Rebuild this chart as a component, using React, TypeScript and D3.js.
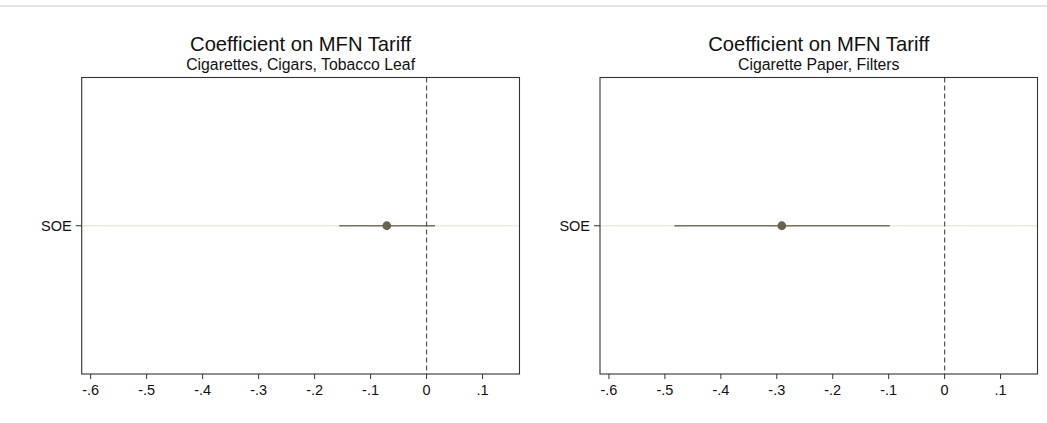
import React from "react";
import * as d3 from "d3";

// Coefficient estimates with confidence intervals, one panel per product group
const panelTitles = ["Coefficient on MFN Tariff", "Coefficient on MFN Tariff"];
const panelSubtitles = ["Cigarettes, Cigars, Tobacco Leaf", "Cigarette Paper, Filters"];
const rowLabels = ["SOE"];
const estimates = [-0.071, -0.291];
const ciLow = [-0.156, -0.483];
const ciHigh = [0.015, -0.098];
const xTicks = [-0.6, -0.5, -0.4, -0.3, -0.2, -0.1, 0, 0.1];
const xDomain: [number, number] = [-0.616, 0.166];

const W = 1047;
const H = 423;
const FONT = "'Liberation Sans', Arial, Helvetica, sans-serif";

const fmt = (v: number) => {
  if (v === 0) return "0";
  const s = d3.format(".1f")(Math.abs(v)).replace(/^0/, "");
  return (v < 0 ? "-" : "") + s;
};

function Panel({ i, left, right }: { i: number; left: number; right: number }) {
  const top = 77.5;
  const bottom = 374;
  const x = d3.scaleLinear().domain(xDomain).range([left, right]);
  const y = d3.scalePoint<string>().domain(rowLabels).range([bottom, top]).padding(1);
  const cx = (left + right) / 2;
  const yRow = y(rowLabels[0]) as number;
  return (
    <g>
      <text x={cx} y={50.5} textAnchor="middle" fontFamily={FONT} fontSize={20.2} fill="#111">
        {panelTitles[i]}
      </text>
      <text x={cx} y={70} textAnchor="middle" fontFamily={FONT} fontSize={15.8} fill="#111">
        {panelSubtitles[i]}
      </text>
      {rowLabels.map((r) => (
        <g key={r}>
          <line x1={left} x2={right} y1={y(r)} y2={y(r)} stroke="#ecebdc" strokeWidth={1.6} />
          <line x1={left - 6} x2={left} y1={y(r)} y2={y(r)} stroke="#333" strokeWidth={1} />
          <text x={left - 10} y={(y(r) as number) + 5.2} textAnchor="end" fontFamily={FONT} fontSize={14.5} fill="#111">
            {r}
          </text>
        </g>
      ))}
      <line x1={x(ciLow[i])} x2={x(ciHigh[i])} y1={yRow} y2={yRow} stroke="#76725f" strokeWidth={1.7} />
      <line x1={x(0)} x2={x(0)} y1={top} y2={bottom} stroke="#555" strokeWidth={1.2} strokeDasharray="5,3" />
      <circle cx={x(estimates[i])} cy={yRow} r={4.4} fill="#6a624f" />
      <rect x={left} y={top} width={right - left} height={bottom - top} fill="none" stroke="#333" strokeWidth={1.1} />
      {xTicks.map((t) => (
        <g key={t}>
          <line x1={x(t)} x2={x(t)} y1={bottom} y2={bottom + 5} stroke="#333" strokeWidth={1} />
          <text x={x(t)} y={394.5} textAnchor="middle" fontFamily={FONT} fontSize={14.5} fill="#111">
            {fmt(t)}
          </text>
        </g>
      ))}
    </g>
  );
}

export default function App() {
  return (
    <svg width={W} height={H} style={{ position: "absolute", left: 0, top: 0, background: "#fff" }}>
      <rect x={0} y={0} width={W} height={H} fill="#fff" />
      <line x1={0} x2={W} y1={6} y2={6} stroke="#dddddd" strokeWidth={1.5} />
      <Panel i={0} left={81.7} right={519.5} />
      <Panel i={1} left={600} right={1037.5} />
    </svg>
  );
}
